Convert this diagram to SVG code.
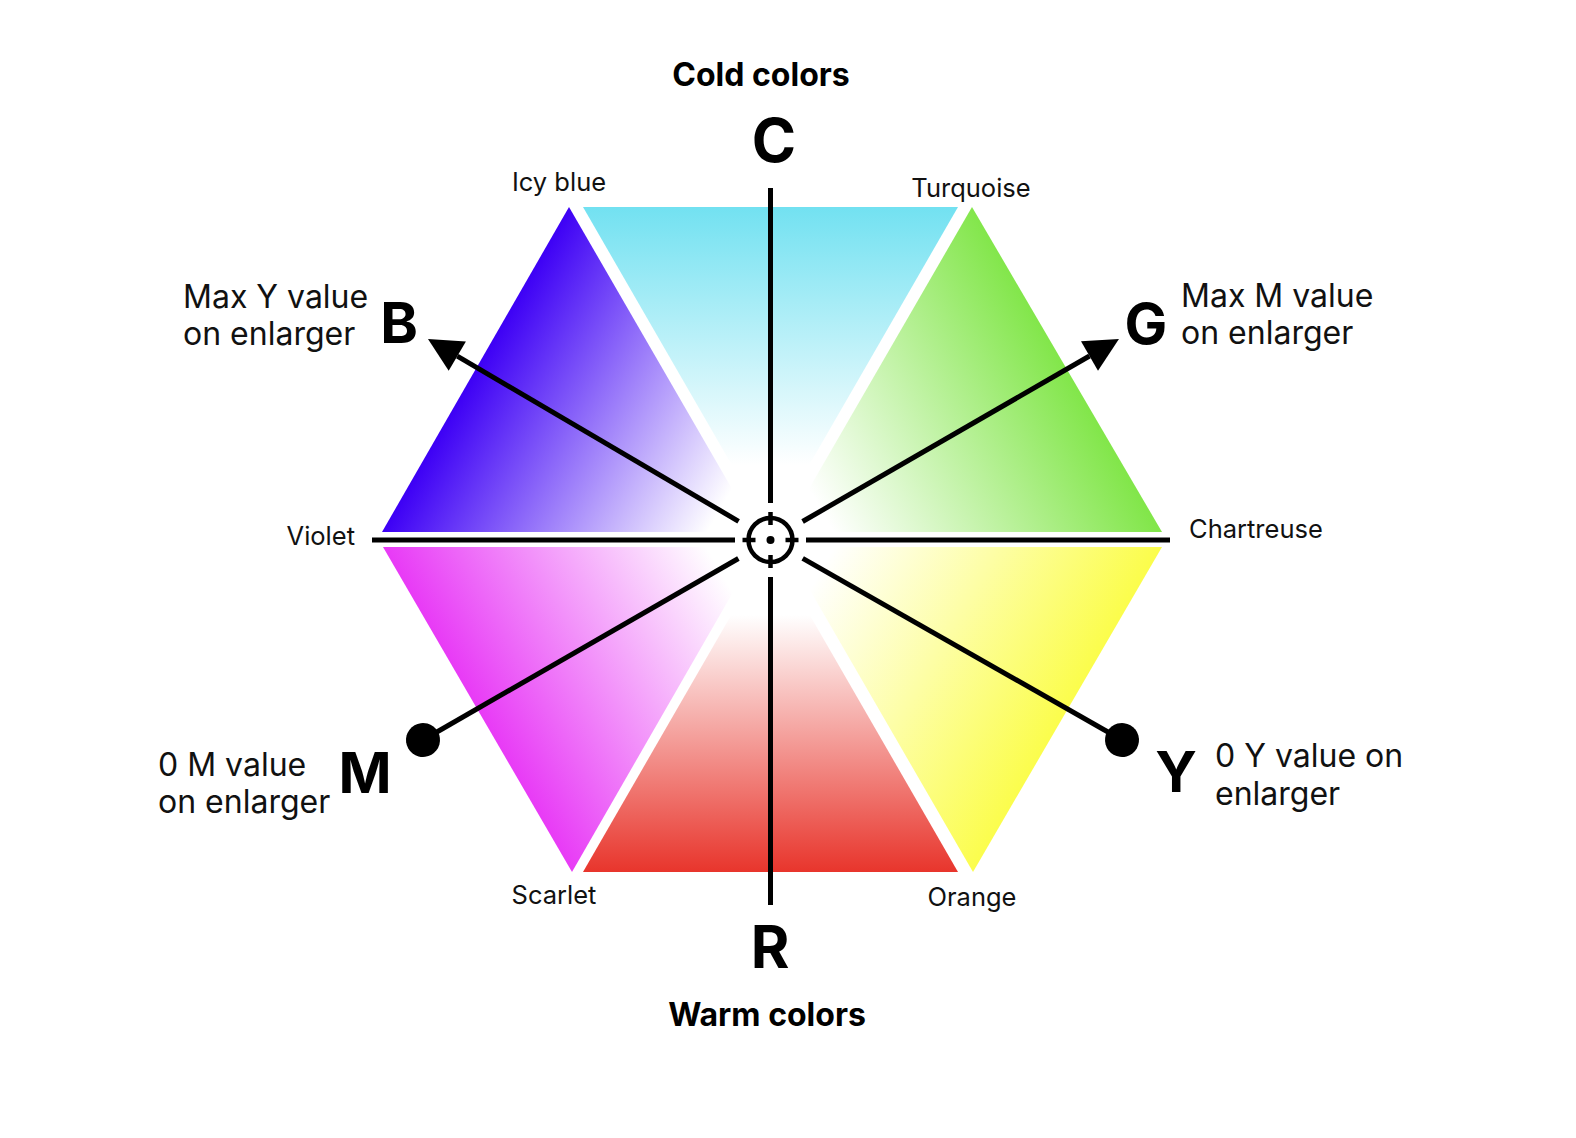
<svg xmlns="http://www.w3.org/2000/svg" width="1576" height="1138" viewBox="0 0 1576 1138">
  <style>
    .ax { stroke: #000; stroke-width: 5; fill: none; }
    .ch { stroke: #000; stroke-width: 4.5; fill: none; }
    .big { font-family: Inter, "Liberation Sans", sans-serif; font-weight: 700; fill: #000; }
    .lbl { font-family: Inter, "Liberation Sans", sans-serif; font-size: 32px; fill: #111; }
    .sm { font-family: Inter, "Liberation Sans", sans-serif; font-size: 25.5px; fill: #111; }
  </style>
  <defs>
    <linearGradient id="gCyan" gradientUnits="userSpaceOnUse" x1="0" y1="207" x2="0" y2="465">
      <stop offset="0" stop-color="#72e1f1"/>
      <stop offset="1" stop-color="#ffffff"/>
    </linearGradient>
    <linearGradient id="gRed" gradientUnits="userSpaceOnUse" x1="0" y1="872" x2="0" y2="615">
      <stop offset="0" stop-color="#e8352c"/>
      <stop offset="1" stop-color="#ffffff"/>
    </linearGradient>
    <linearGradient id="gBlue" gradientUnits="userSpaceOnUse" x1="475" y1="370" x2="720" y2="510">
      <stop offset="0" stop-color="#3d00f5"/>
      <stop offset="1" stop-color="#ffffff"/>
    </linearGradient>
    <linearGradient id="gGreen" gradientUnits="userSpaceOnUse" x1="1067" y1="370" x2="821" y2="510">
      <stop offset="0" stop-color="#82e64a"/>
      <stop offset="1" stop-color="#ffffff"/>
    </linearGradient>
    <linearGradient id="gMag" gradientUnits="userSpaceOnUse" x1="477" y1="710" x2="720" y2="570">
      <stop offset="0" stop-color="#e83af6"/>
      <stop offset="1" stop-color="#ffffff"/>
    </linearGradient>
    <linearGradient id="gYel" gradientUnits="userSpaceOnUse" x1="1067" y1="710" x2="821" y2="570">
      <stop offset="0" stop-color="#fbfd4c"/>
      <stop offset="1" stop-color="#ffffff"/>
    </linearGradient>
    <marker id="arrow" markerUnits="userSpaceOnUse" viewBox="0 -18 36 36" refX="0" refY="0" markerWidth="36" markerHeight="36" orient="auto" overflow="visible">
      <path d="M0,-17 L34,0 L0,17 Z" fill="#000"/>
    </marker>
    <marker id="dot" markerUnits="userSpaceOnUse" viewBox="-18 -18 36 36" refX="0" refY="0" markerWidth="36" markerHeight="36" orient="auto" overflow="visible">
      <circle cx="0" cy="0" r="17" fill="#000"/>
    </marker>
  </defs>

  <rect width="1576" height="1138" fill="#ffffff"/>

  <g id="hexagon">
    <polygon id="tri-cyan" points="583,207 958,207 770.5,532" fill="url(#gCyan)"/>
    <polygon id="tri-blue" points="569,207 382,532 757,532" fill="url(#gBlue)"/>
    <polygon id="tri-green" points="972,207 1162,532 784,532" fill="url(#gGreen)"/>
    <polygon id="tri-magenta" points="383,547 759,547 572,872" fill="url(#gMag)"/>
    <polygon id="tri-red" points="583,872 958,872 770.5,547" fill="url(#gRed)"/>
    <polygon id="tri-yellow" points="1162,547 785,547 973,872" fill="url(#gYel)"/>
  </g>

  <g id="connectors">
    <line class="ax" x1="770.5" y1="188" x2="770.5" y2="503"/>
    <line class="ax" x1="770.5" y1="577" x2="770.5" y2="905"/>
    <line class="ax" x1="372" y1="540" x2="735" y2="540"/>
    <line class="ax" x1="806" y1="540" x2="1170" y2="540"/>
    <line id="arrow-B" class="ax" x1="738.6" y1="521.3" x2="457.3" y2="356.2" marker-end="url(#arrow)"/>
    <line id="arrow-G" class="ax" x1="802.6" y1="521.5" x2="1089.5" y2="356" marker-end="url(#arrow)"/>
    <line id="line-M" class="ax" x1="738.4" y1="558.5" x2="423" y2="740" marker-end="url(#dot)"/>
    <line id="line-Y" class="ax" x1="802.7" y1="558.3" x2="1122" y2="740" marker-end="url(#dot)"/>
  </g>

  <g id="crosshair">
    <circle class="ch" cx="770.5" cy="540" r="22"/>
    <line class="ch" x1="770.5" y1="512" x2="770.5" y2="525"/>
    <line class="ch" x1="770.5" y1="555" x2="770.5" y2="568"/>
    <line class="ch" x1="742.5" y1="540" x2="755.5" y2="540"/>
    <line class="ch" x1="785.5" y1="540" x2="798.5" y2="540"/>
    <circle cx="770.5" cy="540" r="4" fill="#000"/>
  </g>

  <g id="label-cold"><text class="big" x="761" y="86" font-size="32" text-anchor="middle">Cold colors</text></g>
  <g id="label-warm"><text class="big" x="767" y="1026" font-size="32" text-anchor="middle">Warm colors</text></g>

  <g id="node-C"><text class="big" x="774" y="162" font-size="60" text-anchor="middle">C</text></g>
  <g id="node-R"><text class="big" x="770" y="968" font-size="59" text-anchor="middle">R</text></g>
  <g id="node-B">
    <text class="big" x="399" y="343" font-size="57" text-anchor="middle">B</text>
    <text class="lbl" x="183" y="308">Max Y value</text>
    <text class="lbl" x="183" y="345">on enlarger</text>
  </g>
  <g id="node-G">
    <text class="big" x="1146" y="344" font-size="57" text-anchor="middle">G</text>
    <text class="lbl" x="1181" y="307">Max M value</text>
    <text class="lbl" x="1181" y="344">on enlarger</text>
  </g>
  <g id="node-M">
    <text class="big" x="365" y="793" font-size="57" text-anchor="middle">M</text>
    <text class="lbl" x="158" y="776">0 M value</text>
    <text class="lbl" x="158" y="813">on enlarger</text>
  </g>
  <g id="node-Y">
    <text class="big" x="1176" y="792" font-size="57" text-anchor="middle">Y</text>
    <text class="lbl" x="1215" y="767">0 Y value on</text>
    <text class="lbl" x="1215" y="805">enlarger</text>
  </g>

  <g id="corner-labels">
    <text class="sm" x="559" y="191" text-anchor="middle">Icy blue</text>
    <text class="sm" x="971" y="197" text-anchor="middle">Turquoise</text>
    <text class="sm" x="355" y="545" text-anchor="end">Violet</text>
    <text class="sm" x="1189" y="538">Chartreuse</text>
    <text class="sm" x="554" y="904" text-anchor="middle">Scarlet</text>
    <text class="sm" x="972" y="906" text-anchor="middle">Orange</text>
  </g>
</svg>
